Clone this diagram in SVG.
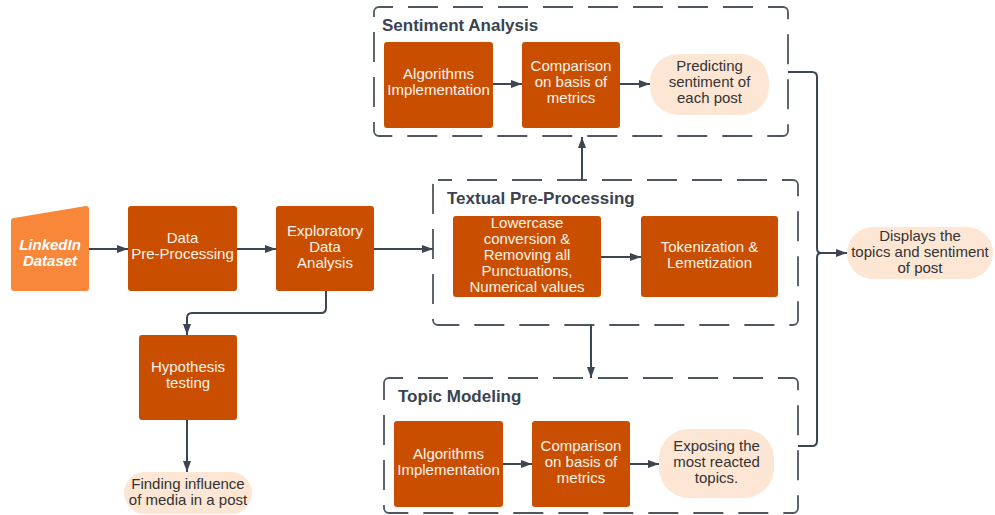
<svg xmlns="http://www.w3.org/2000/svg" width="995" height="515" viewBox="0 0 995 515">
<style>
.box{fill:#CA4E00;}
.pill{fill:#FDE6D4;}
.grp{fill:none;stroke:#4F5661;stroke-width:1.8;stroke-dasharray:30 15;stroke-dashoffset:16;}
.wt{font-family:"Liberation Sans",Arial,sans-serif;font-size:15px;fill:#FFF3EA;text-anchor:middle;}
.dt{font-family:"Liberation Sans",Arial,sans-serif;font-size:15px;fill:#333333;text-anchor:middle;}
.tt{font-family:"Liberation Sans",Arial,sans-serif;font-size:17px;font-weight:bold;fill:#3A4351;}
.lk{font-family:"Liberation Sans",Arial,sans-serif;font-size:15px;font-weight:bold;font-style:italic;fill:#FFFFFF;text-anchor:middle;}
.cn{fill:none;stroke:#3D4452;stroke-width:2;}
</style>
<defs>
<marker id="ah" markerUnits="userSpaceOnUse" markerWidth="11" markerHeight="8" refX="11" refY="4" orient="auto">
<path d="M0,0 L11,4 L0,8 z" fill="#3D4452"/>
</marker>
</defs>

<g id="sentiment-group">
<rect class="grp" x="374" y="7" width="414" height="129" rx="5"/>
<text class="tt" x="382" y="31">Sentiment Analysis</text>
</g>
<g id="textual-group">
<rect class="grp" x="433" y="180" width="365" height="145" rx="5"/>
<text class="tt" x="447" y="204">Textual Pre-Processing</text>
</g>
<g id="topic-group">
<rect class="grp" x="384" y="378" width="414" height="135" rx="5"/>
<text class="tt" x="398" y="402">Topic Modeling</text>
</g>

<g id="connectors">
<path class="cn" d="M89,249 H128" marker-end="url(#ah)"/>
<path class="cn" d="M237,249 H276" marker-end="url(#ah)"/>
<path class="cn" d="M374,249 H433" marker-end="url(#ah)"/>
<path class="cn" d="M326,291 V308 Q326,313 321,313 H192 Q187,313 187,318 V335" marker-end="url(#ah)"/>
<path class="cn" d="M187,420 V472" marker-end="url(#ah)"/>
<path class="cn" d="M582,180 V137" marker-end="url(#ah)"/>
<path class="cn" d="M591,325 V378" marker-end="url(#ah)"/>
<path class="cn" d="M493,84 H522" marker-end="url(#ah)"/>
<path class="cn" d="M620,84 H650" marker-end="url(#ah)"/>
<path class="cn" d="M601,257 H641" marker-end="url(#ah)"/>
<path class="cn" d="M503,464 H532" marker-end="url(#ah)"/>
<path class="cn" d="M630,464 H659" marker-end="url(#ah)"/>
<path class="cn" d="M788,72 H812 Q817,72 817,77 V248 Q817,253 821,253 Q817,253 817,258 V441 Q817,446 812,446 H798"/>
<path class="cn" d="M821,253 H847" marker-end="url(#ah)"/>
</g>

<g id="linkedin">
<path d="M14,218 L86,206 Q89,206 89,209 V288 Q89,291 86,291 H14 Q11,291 11,288 V221 Q11,218 14,218 z" fill="#F9873A"/>
<text class="lk" x="50" y="250">LinkedIn</text>
<text class="lk" x="50" y="266">Dataset</text>
</g>
<g id="data-pre">
<rect class="box" x="128" y="206" width="109" height="85" rx="3"/>
<text class="wt" x="182.5" y="243">Data</text>
<text class="wt" x="182.5" y="259">Pre-Processing</text>
</g>
<g id="eda">
<rect class="box" x="276" y="206" width="98" height="85" rx="3"/>
<text class="wt" x="325" y="236">Exploratory</text>
<text class="wt" x="325" y="252">Data</text>
<text class="wt" x="325" y="268">Analysis</text>
</g>
<g id="hypothesis">
<rect class="box" x="139" y="335" width="98" height="85" rx="3"/>
<text class="wt" x="188" y="372">Hypothesis</text>
<text class="wt" x="188" y="388">testing</text>
</g>
<g id="finding">
<rect class="pill" x="124" y="472" width="128" height="42" rx="21"/>
<text class="dt" x="188" y="489">Finding influence</text>
<text class="dt" x="188" y="505">of media in a post</text>
</g>

<g id="sa-algo">
<rect class="box" x="384" y="42" width="109" height="86" rx="3"/>
<text class="wt" x="438.5" y="79">Algorithms</text>
<text class="wt" x="438.5" y="95">Implementation</text>
</g>
<g id="sa-comp">
<rect class="box" x="522" y="42" width="98" height="86" rx="3"/>
<text class="wt" x="571" y="71">Comparison</text>
<text class="wt" x="571" y="87">on basis of</text>
<text class="wt" x="571" y="103">metrics</text>
</g>
<g id="sa-pred">
<rect class="pill" x="650" y="54" width="119" height="61" rx="28"/>
<text class="dt" x="709.5" y="71">Predicting</text>
<text class="dt" x="709.5" y="87">sentiment of</text>
<text class="dt" x="709.5" y="103">each post</text>
</g>

<g id="tp-lower">
<rect class="box" x="453" y="216" width="148" height="81" rx="3"/>
<text class="wt" x="527" y="228">Lowercase</text>
<text class="wt" x="527" y="244">conversion &amp;</text>
<text class="wt" x="527" y="260">Removing all</text>
<text class="wt" x="527" y="276">Punctuations,</text>
<text class="wt" x="527" y="292">Numerical values</text>
</g>
<g id="tp-token">
<rect class="box" x="641" y="216" width="137" height="81" rx="3"/>
<text class="wt" x="709.5" y="252">Tokenization &amp;</text>
<text class="wt" x="709.5" y="268">Lemetization</text>
</g>

<g id="tm-algo">
<rect class="box" x="394" y="421" width="109" height="86" rx="3"/>
<text class="wt" x="448.5" y="459">Algorithms</text>
<text class="wt" x="448.5" y="475">Implementation</text>
</g>
<g id="tm-comp">
<rect class="box" x="532" y="421" width="98" height="86" rx="3"/>
<text class="wt" x="581" y="451">Comparison</text>
<text class="wt" x="581" y="467">on basis of</text>
<text class="wt" x="581" y="483">metrics</text>
</g>
<g id="tm-expose">
<rect class="pill" x="659" y="429" width="115" height="69" rx="30"/>
<text class="dt" x="716.5" y="451">Exposing the</text>
<text class="dt" x="716.5" y="467">most reacted</text>
<text class="dt" x="716.5" y="483">topics.</text>
</g>

<g id="display">
<rect class="pill" x="847" y="227" width="146" height="52" rx="26"/>
<text class="dt" x="920" y="241">Displays the</text>
<text class="dt" x="920" y="257">topics and sentiment</text>
<text class="dt" x="920" y="273">of post</text>
</g>
</svg>
